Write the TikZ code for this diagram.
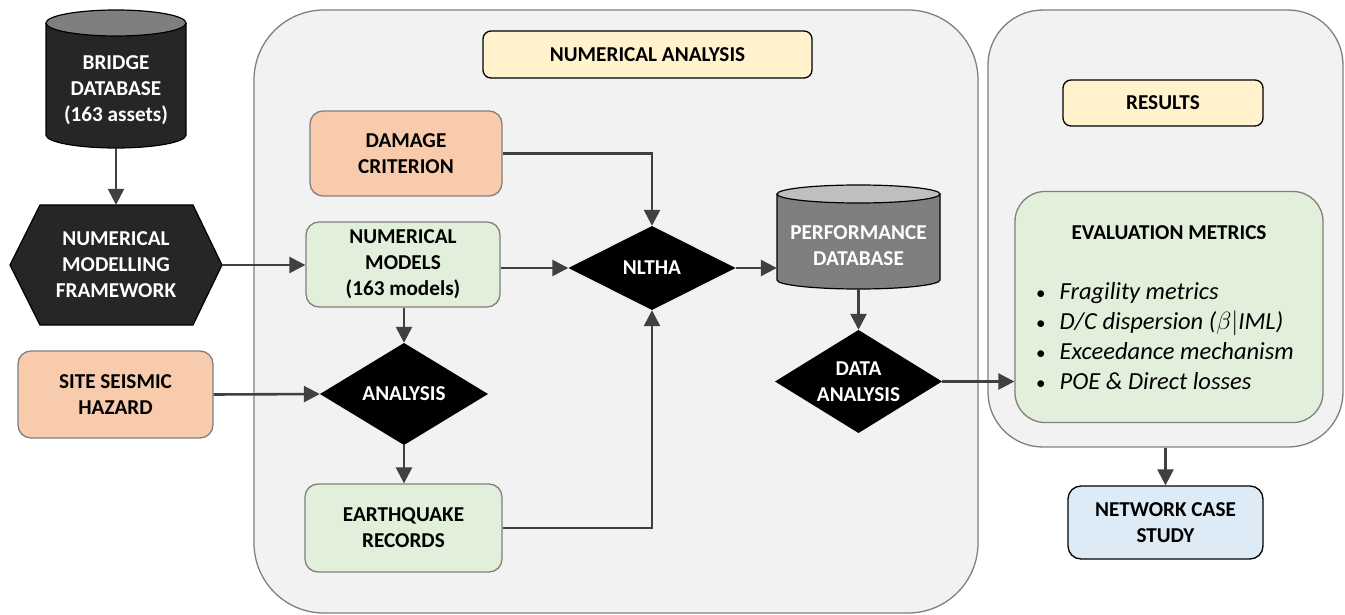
\documentclass[tikz,border=0pt]{standalone}
\usepackage{fontspec}
\setmainfont{Carlito}
\usetikzlibrary{shapes.geometric,arrows.meta}
\definecolor{panelfill}{HTML}{F2F2F2}
\definecolor{panelline}{HTML}{808080}
\definecolor{orangefill}{HTML}{F8CBAD}
\definecolor{greenfill}{HTML}{E2EFDA}
\definecolor{yellowfill}{HTML}{FFF2CC}
\definecolor{bluefill}{HTML}{DDEBF7}
\definecolor{arrowcol}{HTML}{404040}
\definecolor{darkfill}{HTML}{262626}
\definecolor{midgray}{HTML}{7F7F7F}
\definecolor{lightgray2}{HTML}{BFBFBF}
\begin{document}
\begin{tikzpicture}[x=1pt,y=-1pt,
  lbl/.style={font=\fontsize{21.2}{26}\selectfont\bfseries, align=center, inner sep=0pt},
  panel/.style={draw=panelline, fill=panelfill, line width=1.3pt},
  box/.style={lbl, draw=panelline, line width=1.3pt, rounded corners=13pt},
  titlebox/.style={lbl, draw=black, line width=1.3pt, rounded corners=8pt, fill=yellowfill},
  dia/.style={lbl, text=white, path picture={\fill[black] (path picture bounding box.north) -- (path picture bounding box.east) -- (path picture bounding box.south) -- (path picture bounding box.west) -- cycle;}},
  arr/.style={draw=arrowcol, line width=2.6pt, -{Triangle[length=16pt,width=16pt]}}
]
\useasboundingbox (0,0) rectangle (1345,615);
% panels
\node[panel, rounded corners=70pt, minimum width=724pt, minimum height=603pt] (napanel) at (616,311.5) {};
\node[panel, rounded corners=55pt, minimum width=355pt, minimum height=437pt] (respanel) at (1165.5,228.5) {};
% titles
\node[titlebox, minimum width=329pt, minimum height=47pt] (natitle) at (647.5,54.5) {NUMERICAL ANALYSIS};
\node[titlebox, minimum width=200pt, minimum height=46pt] (restitle) at (1163,103) {RESULTS};
% bridge database cylinder
\fill[darkfill] (46,23) -- (46,135) arc (180:360:70pt and 13pt) -- (186,23) -- cycle;
\draw[black, line width=1.2pt] (46,23) -- (46,135) arc (180:360:70pt and 13pt) -- (186,23);
\draw[black, line width=1.2pt, fill=midgray] (116,23) ellipse [x radius=70pt, y radius=13pt];
\node[lbl, text=white, minimum width=140pt, minimum height=116pt] (bdb) at (116,90) {BRIDGE\\DATABASE\\(163 assets)};
% hexagon
\draw[black, line width=1.2pt, fill=darkfill] (10,265) -- (40,205) -- (193,205) -- (222,265) -- (193,325) -- (40,325) -- cycle;
\node[lbl, text=white, minimum width=212pt, minimum height=120pt] (hex) at (116,265) {NUMERICAL\\MODELLING\\FRAMEWORK};
% boxes
\node[box, fill=orangefill, minimum width=192pt, minimum height=85pt] (damage) at (406,153.5) {DAMAGE\\CRITERION};
\node[box, fill=greenfill, minimum width=194pt, minimum height=85pt] (models) at (403,264.5) {NUMERICAL\\MODELS\\(163 models)};
\node[box, fill=orangefill, minimum width=195pt, minimum height=87pt] (hazard) at (115.5,394.5) {SITE SEISMIC\\HAZARD};
\node[box, fill=greenfill, minimum width=197pt, minimum height=88pt] (eq) at (403.5,528) {EARTHQUAKE\\RECORDS};
% diamonds
\node[dia, minimum width=167pt, minimum height=84pt] (nltha) at (652,268) {NLTHA};
\node[dia, minimum width=168pt, minimum height=102pt] (analysis) at (404,394) {ANALYSIS};
\node[dia, minimum width=167pt, minimum height=103pt] (dataan) at (858.5,381.5) {DATA\\ANALYSIS};
% performance database cylinder
\fill[midgray] (777,194) -- (777,280) arc (180:360:81.5pt and 9pt) -- (940,194) -- cycle;
\draw[black, line width=1.2pt] (777,194) -- (777,280) arc (180:360:81.5pt and 9pt) -- (940,194);
\draw[black, line width=1.2pt, fill=lightgray2] (858.5,194) ellipse [x radius=81.5pt, y radius=9pt];
\node[lbl, text=white, minimum width=163pt, minimum height=86pt] (pdb) at (858.5,246) {PERFORMANCE\\DATABASE};
% evaluation metrics
\node[box, fill=greenfill, rounded corners=30pt, minimum width=308pt, minimum height=231pt] (eval) at (1169,307) {};
\node[lbl] (evaltitle) at (1169,233) {EVALUATION METRICS};
\node[font=\fontsize{24.5}{30}\selectfont, align=left, anchor=west, inner sep=0pt] (evallist) at (1036,336)
 {{\fontsize{19}{30}\selectfont\textbullet}\hspace{14pt}\textit{Fragility metrics}\\
  {\fontsize{19}{30}\selectfont\textbullet}\hspace{14pt}\textit{D/C dispersion (\(\beta|\mathit{IML}\))}\\
  {\fontsize{19}{30}\selectfont\textbullet}\hspace{14pt}\textit{Exceedance mechanism}\\
  {\fontsize{19}{30}\selectfont\textbullet}\hspace{14pt}\textit{POE \& Direct losses}};
% network case study
\node[lbl, draw=black, line width=1.3pt, rounded corners=13pt, fill=bluefill, minimum width=195pt, minimum height=73pt] (network) at (1165.5,522.5) {NETWORK CASE\\STUDY};
% connectors
\draw[arr] (bdb.south) -- (hex.north);
\draw[arr] (hex.east) -- (hex.east -| models.west);
\draw[arr] (damage.east) -| (nltha.north);
\draw[arr] (models.east |- nltha.west) -- (nltha.west);
\draw[arr] (models.south -| analysis.north) -- (analysis.north);
\draw[arr] (hazard.east) -- (analysis.west);
\draw[arr] (analysis.south) -- (eq.north -| analysis.south);
\draw[arr] (eq.east) -| (nltha.south);
\draw[arr] (nltha.east) -- (nltha.east -| pdb.west);
\draw[arr] (pdb.south) -- (dataan.north);
\draw[arr] (dataan.east) -- (dataan.east -| eval.west);
\draw[arr] (network.north |- respanel.south) -- (network.north);
\end{tikzpicture}
\end{document}
